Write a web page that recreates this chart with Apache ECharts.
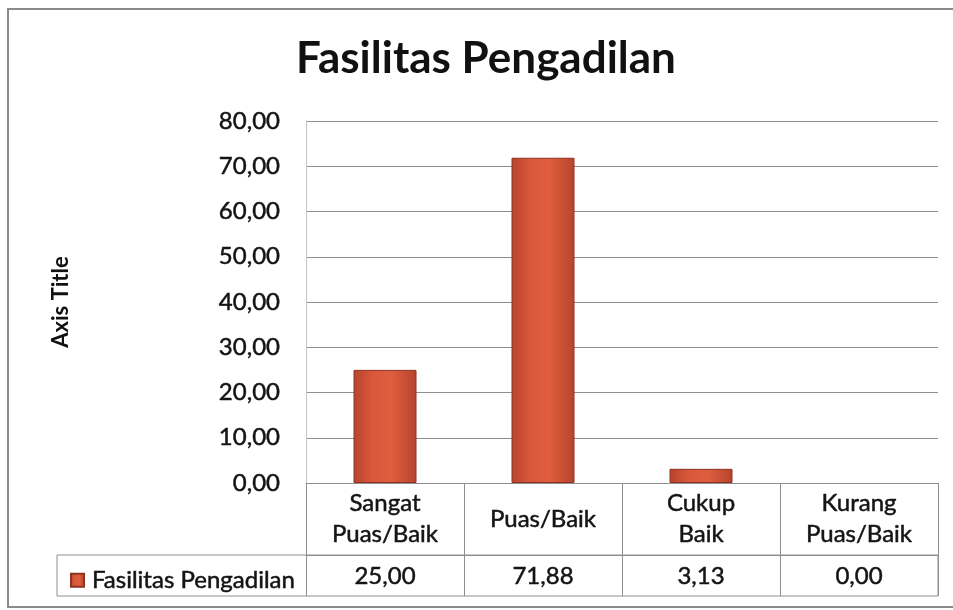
<!DOCTYPE html>
<html>
<head>
<meta charset="utf-8">
<title>Fasilitas Pengadilan</title>
<script src="https://cdn.jsdelivr.net/npm/echarts@6/dist/echarts.min.js"></script>
<style>
  html, body { margin: 0; padding: 0; background: #fff; }
  #chart { width: 953px; height: 610px; }
</style>
</head>
<body>
<div id="chart"></div>
<script>
var categories = ["Sangat\nPuas/Baik", "Puas/Baik", "Cukup\nBaik", "Kurang\nPuas/Baik"];
var values = [25.00, 71.88, 3.13, 0.00];
var seriesName = "Fasilitas Pengadilan";
var yTicks = { min: 0, max: 80, interval: 10 };

function fmt(v) {
  return v.toFixed(2).replace(".", ",");
}

var font = "Lato, 'Open Sans', sans-serif";
var lineCol = "#8f8f8f";
var txt = "#141414";
// the scan makes the text look heavier, thicken regular text a bit
var thick = { textBorderColor: txt, textBorderWidth: 0.5 };

var chart = echarts.init(document.getElementById("chart"));
chart.setOption({
  animation: false,
  textStyle: { fontFamily: font, color: txt },
  title: {
    text: "Fasilitas Pengadilan",
    left: 291,
    top: 32,
    textStyle: { fontFamily: font, fontSize: 44, fontWeight: "bold", color: "#111" },
  },
  grid: { left: 306, right: 15, top: 121, bottom: 127 },
  legend: {
    left: 65,
    top: 563,
    icon: "rect",
    itemWidth: 13,
    itemHeight: 13,
    itemGap: 4,
    data: [seriesName],
    textStyle: Object.assign({ fontFamily: font, fontSize: 24, color: txt, padding: [0, 0, 0, 3] }, thick),
  },
  xAxis: [
    {
      type: "category",
      data: categories,
      position: "bottom",
      axisLine: { show: true, lineStyle: { color: lineCol, width: 1 } },
      axisTick: { show: true, interval: 0, length: 72, lineStyle: { color: lineCol } },
      axisLabel: Object.assign({
        interval: 0,
        margin: 36,
        verticalAlign: "middle",
        fontSize: 24,
        lineHeight: 31,
        color: txt,
      }, thick),
    },
    {
      type: "category",
      data: categories,
      position: "bottom",
      offset: 72,
      axisLine: { show: true, lineStyle: { color: lineCol, width: 1 } },
      axisTick: { show: true, interval: 0, length: 41, lineStyle: { color: lineCol } },
      axisLabel: Object.assign({
        interval: 0,
        margin: 21,
        verticalAlign: "middle",
        fontSize: 24,
        color: txt,
        formatter: function (v, i) {
          return fmt(values[i]);
        },
      }, thick),
    },
  ],
  yAxis: {
    type: "value",
    min: yTicks.min,
    max: yTicks.max,
    interval: yTicks.interval,
    name: "Axis Title",
    nameLocation: "middle",
    nameGap: 234,
    nameTextStyle: { fontFamily: font, fontSize: 22, fontWeight: "bold", color: "#111" },
    axisLine: { show: true, lineStyle: { color: "#c4c4c4" } },
    axisTick: { show: false },
    axisLabel: Object.assign({
      margin: 26,
      fontSize: 24,
      color: txt,
      formatter: function (v) {
        return fmt(v);
      },
    }, thick),
    splitLine: { show: true, lineStyle: { color: lineCol, width: 1 } },
  },
  graphic: [
    {
      type: "rect",
      shape: { x: 57, y: 555, width: 881, height: 41 },
      style: { fill: "none", stroke: lineCol, lineWidth: 1 },
    },
    {
      type: "rect",
      shape: { x: 8, y: 9, width: 960, height: 598 },
      style: { fill: "none", stroke: "#8a8a8a", lineWidth: 2 },
    },
  ],
  series: [
    {
      name: seriesName,
      type: "bar",
      // a zero bar shows nothing in the original, so drop its outline
      data: values.map(function (v) {
        return v === 0 ? { value: v, itemStyle: { borderWidth: 0 } } : v;
      }),
      barWidth: 63,
      itemStyle: {
        color: new echarts.graphic.LinearGradient(0, 0, 1, 0, [
          { offset: 0, color: "#b8432c" },
          { offset: 0.3, color: "#d9573c" },
          { offset: 0.6, color: "#df5e3e" },
          { offset: 1, color: "#b7432d" },
        ]),
        borderColor: "#8e3321",
        borderWidth: 1,
      },
    },
  ],
});
</script>
</body>
</html>
